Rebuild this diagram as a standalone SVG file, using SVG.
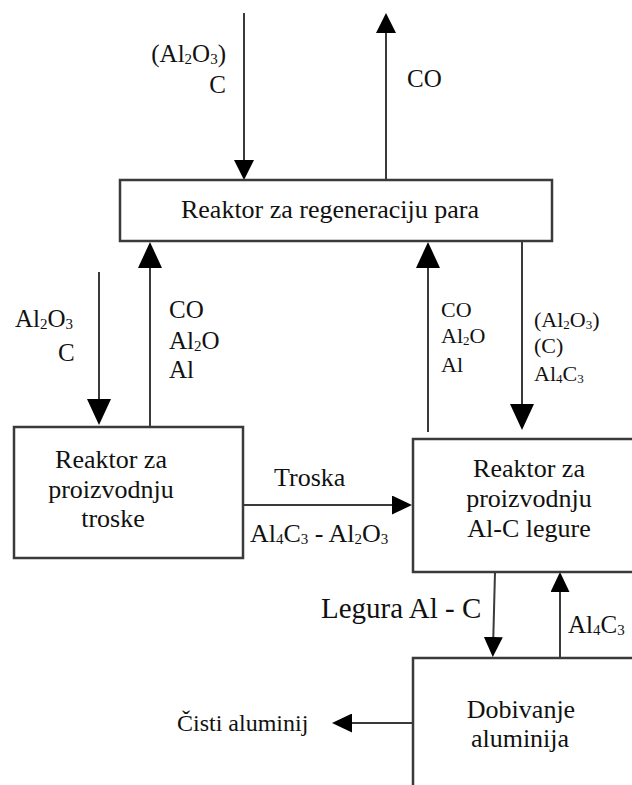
<svg xmlns="http://www.w3.org/2000/svg" width="632" height="785" viewBox="0 0 632 785" font-family="'Liberation Serif', 'Times New Roman', 'DejaVu Serif', serif">
<style>
.box{fill:#fff;stroke:#3a3a3a;stroke-width:2.5}
.ln{fill:none;stroke:#3a3a3a;stroke-width:2}
text{font-family:'Liberation Serif','Times New Roman','DejaVu Serif',serif;fill:#111}
.t26{font-size:26px}
.t25{font-size:25px}
.t22{font-size:22px}
.mid{text-anchor:middle}
.end{text-anchor:end}
.s{font-size:15px}
.ss{font-size:13px}
</style>
<defs>
<marker id="aS" markerUnits="userSpaceOnUse" viewBox="0 0 20 20" markerWidth="20" markerHeight="20" refX="12" refY="10" orient="auto"><path d="M0,0 L20,10 L0,20 z" fill="#000"/></marker>
<marker id="aM" markerUnits="userSpaceOnUse" viewBox="0 0 20 19" markerWidth="20" markerHeight="19" refX="12" refY="9.5" orient="auto"><path d="M0,0 L20,9.5 L0,19 z" fill="#000"/></marker>
<marker id="aL" markerUnits="userSpaceOnUse" viewBox="0 0 26 24" markerWidth="26" markerHeight="24" refX="16" refY="12" orient="auto"><path d="M0,0 L26,12 L0,24 z" fill="#000"/></marker>
</defs>

<g id="connectors">
<line class="ln" x1="244" y1="13" x2="244" y2="172" marker-end="url(#aS)"/>
<line class="ln" x1="386" y1="179" x2="386" y2="21" marker-end="url(#aS)"/>
<line class="ln" x1="99" y1="272" x2="99" y2="415" marker-end="url(#aL)"/>
<line class="ln" x1="150" y1="427" x2="150" y2="252" marker-end="url(#aL)"/>
<line class="ln" x1="243" y1="505" x2="404" y2="505" marker-end="url(#aM)"/>
<line class="ln" x1="428" y1="432" x2="428" y2="252" marker-end="url(#aL)"/>
<line class="ln" x1="522" y1="242" x2="522" y2="420" marker-end="url(#aL)"/>
<line class="ln" x1="495" y1="572" x2="493" y2="649" marker-end="url(#aM)"/>
<line class="ln" x1="560" y1="657" x2="560" y2="580" marker-end="url(#aM)"/>
<line class="ln" x1="413" y1="723" x2="340" y2="723" marker-end="url(#aM)"/>
</g>

<g id="labels">
<text class="t25 end" x="226" y="62">(Al<tspan class="s" dy="2">2</tspan><tspan dy="-2">O</tspan><tspan class="s" dy="2">3</tspan><tspan dy="-2">)</tspan></text>
<text class="t25 end" x="226" y="93">C</text>
<text class="t25" x="407" y="87">CO</text>

<text class="t25" x="15" y="327">Al<tspan class="s" dy="2">2</tspan><tspan dy="-2">O</tspan><tspan class="s" dy="2">3</tspan></text>
<text class="t25" x="58" y="361">C</text>

<text class="t25" x="169" y="318">CO</text>
<text class="t25" x="169" y="349">Al<tspan class="s" dy="2">2</tspan><tspan dy="-2">O</tspan></text>
<text class="t25" x="169" y="378">Al</text>

<text class="t22" x="441" y="317">CO</text>
<text class="t22" x="441" y="343">Al<tspan class="ss" dy="2">2</tspan><tspan dy="-2">O</tspan></text>
<text class="t22" x="441" y="372">Al</text>

<text class="t22" x="534" y="327">(Al<tspan class="ss" dy="2">2</tspan><tspan dy="-2">O</tspan><tspan class="ss" dy="2">3</tspan><tspan dy="-2">)</tspan></text>
<text class="t22" x="534" y="353">(C)</text>
<text class="t22" x="534" y="381">Al<tspan class="ss" dy="2">4</tspan><tspan dy="-2">C</tspan><tspan class="ss" dy="2">3</tspan></text>

<text class="t26" x="274" y="486">Troska</text>
<text class="t26" x="250" y="542">Al<tspan class="s" dy="2">4</tspan><tspan dy="-2">C</tspan><tspan class="s" dy="2">3</tspan><tspan dy="-2"> - Al</tspan><tspan class="s" dy="2">2</tspan><tspan dy="-2">O</tspan><tspan class="s" dy="2">3</tspan></text>

<text x="321" y="618" style="font-size:29px">Legura Al - C</text>
<text class="t25" x="568" y="633">Al<tspan class="s" dy="2">4</tspan><tspan dy="-2">C</tspan><tspan class="s" dy="2">3</tspan></text>
<text x="177" y="731" style="font-size:24px">Čisti aluminij</text>
</g>

<g id="node-regeneracija">
<rect class="box" x="120" y="180" width="432" height="61"/>
<text class="t26 mid" x="330" y="218">Reaktor za regeneraciju para</text>
</g>

<g id="node-troska">
<rect class="box" x="14" y="427" width="229" height="131"/>
<text class="t26 mid" x="111" y="468">Reaktor za</text>
<text class="t26 mid" x="111" y="498">proizvodnju</text>
<text class="t26 mid" x="113" y="527">troske</text>
</g>

<g id="node-legura">
<rect class="box" x="413" y="439" width="240" height="133"/>
<text class="t26 mid" x="529" y="477">Reaktor za</text>
<text class="t26 mid" x="529" y="507">proizvodnju</text>
<text class="t26 mid" x="529" y="537">Al-C legure</text>
</g>

<g id="node-dobivanje">
<rect class="box" x="413" y="658" width="240" height="150"/>
<text class="t26 mid" x="521" y="718">Dobivanje</text>
<text class="t26 mid" x="520" y="747">aluminija</text>
</g>
</svg>
